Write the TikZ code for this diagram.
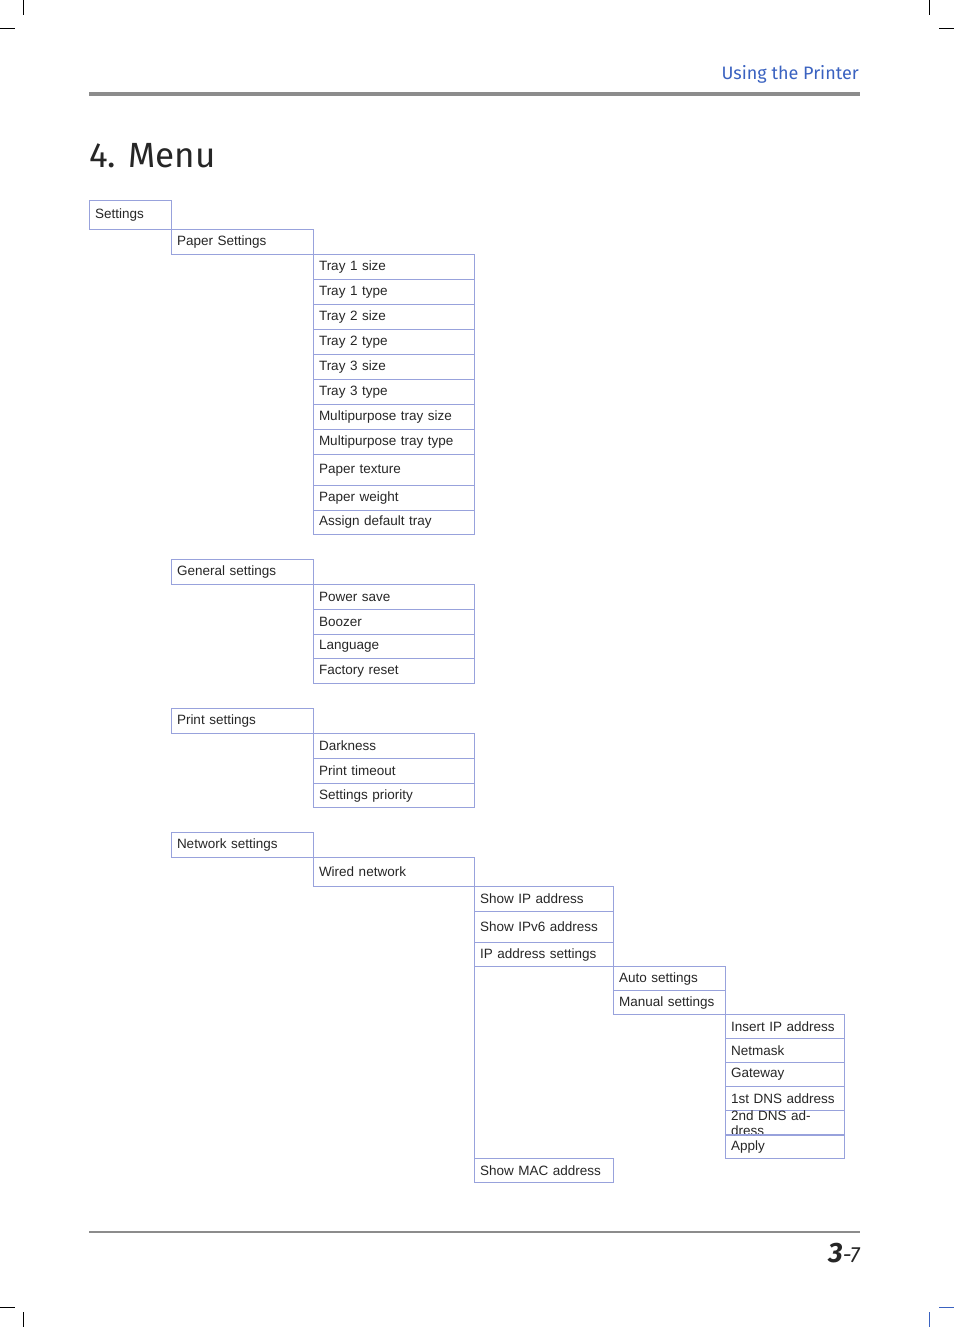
\documentclass[tikz,border=0pt]{standalone}
\usepackage{fontspec}
\setmainfont{Liberation Sans}
\newfontfamily\headfont{Fira Sans}
\definecolor{boxc}{HTML}{98A2DC}
\definecolor{headblue}{HTML}{3A62C0}
\newcommand{\bx}[6]{\node[menubox, minimum width={(#4-#2)*1pt}, minimum height={(#5-#3)*1pt}, text width={(#4-#2-11)*1pt}] (#1) at (#2,#3) {#6};}
\begin{document}
\begin{tikzpicture}[x=1pt,y=-1pt,
  menubox/.style={draw=boxc, line width=1pt, anchor=north west, inner xsep=5pt, inner ysep=0pt, align=left, font=\fontsize{13.5}{15}\selectfont, text=black!85},
  crop/.style={line width=0.6pt}]
\useasboundingbox (0,0) rectangle (954,1327);
% crop marks
\draw[crop] (23,0) -- (23,15) (0,28) -- (15,28) (929,0) -- (929,15) (939,28) -- (954,28);
\draw[crop] (23,1312) -- (23,1327) (0,1307) -- (15,1307);
\draw[crop,headblue] (929,1312) -- (929,1327) (939,1307) -- (954,1307);
% header
\node[anchor=base east, text=headblue, font=\headfont\fontsize{18}{20}\selectfont, inner sep=0] (hdr) at (859,80) {Using the Printer};
\draw[line width=4pt, black!45] (89,94) -- (860,94);
\node[anchor=base west, font=\headfont\fontsize{35}{40}\selectfont, inner sep=0, text=black!85] (title) at (89,167) {4. Menu};
% footer
\draw[line width=2pt, black!45] (89,1232) -- (860,1232);
\node[anchor=base east, inner sep=0, text=black!85] (pg) at (860,1262) {{\headfont\bfseries\itshape\fontsize{28}{30}\selectfont 3}{\headfont\itshape\fontsize{22}{24}\selectfont -7}};
% menu
\bx{set}{89}{200}{171}{229}{Settings}
\bx{paper}{171}{229}{313}{254}{Paper Settings}
\bx{t1s}{313}{254}{474}{279}{Tray 1 size}
\bx{t1t}{313}{279}{474}{304}{Tray 1 type}
\bx{t2s}{313}{304}{474}{329}{Tray 2 size}
\bx{t2t}{313}{329}{474}{354}{Tray 2 type}
\bx{t3s}{313}{354}{474}{379}{Tray 3 size}
\bx{t3t}{313}{379}{474}{404}{Tray 3 type}
\bx{mps}{313}{404}{474}{429}{Multipurpose tray size}
\bx{mpt}{313}{429}{474}{454}{Multipurpose tray type}
\bx{ptex}{313}{454}{474}{485}{Paper texture}
\bx{pw}{313}{485}{474}{510}{Paper weight}
\bx{adt}{313}{510}{474}{534}{Assign default tray}
\bx{gen}{171}{559}{313}{584}{General settings}
\bx{ps}{313}{584}{474}{609}{Power save}
\bx{bz}{313}{609}{474}{634}{Boozer}
\bx{lang}{313}{634}{474}{658}{Language}
\bx{fr}{313}{658}{474}{683}{Factory reset}
\bx{prn}{171}{708}{313}{733}{Print settings}
\bx{dark}{313}{733}{474}{758}{Darkness}
\bx{pto}{313}{758}{474}{783}{Print timeout}
\bx{spr}{313}{783}{474}{807}{Settings priority}
\bx{net}{171}{832}{313}{857}{Network settings}
\bx{wired}{313}{857}{474}{886}{Wired network}
\bx{sip}{474}{886}{613}{911}{Show IP address}
\bx{sip6}{474}{911}{613}{942}{Show IPv6 address}
\bx{ipset}{474}{942}{613}{966}{IP address settings}
\bx{auto}{613}{966}{725}{990}{Auto settings}
\bx{man}{613}{990}{725}{1014}{Manual settings}
\bx{ins}{725}{1014}{844}{1038}{Insert IP address}
\bx{nm}{725}{1038}{844}{1062}{Netmask}
\bx{gw}{725}{1062}{844}{1086}{Gateway}
\bx{dns1}{725}{1086}{844}{1110}{1st DNS address}
\bx{dns2}{725}{1110}{844}{1134}{2nd DNS address}
\bx{apply}{725}{1134}{844}{1158}{Apply}
\bx{mac}{474}{1158}{613}{1182}{Show MAC address}
\draw[draw=boxc, line width=1pt] (ipset.south west) -- (mac.north west);
\end{tikzpicture}
\end{document}
